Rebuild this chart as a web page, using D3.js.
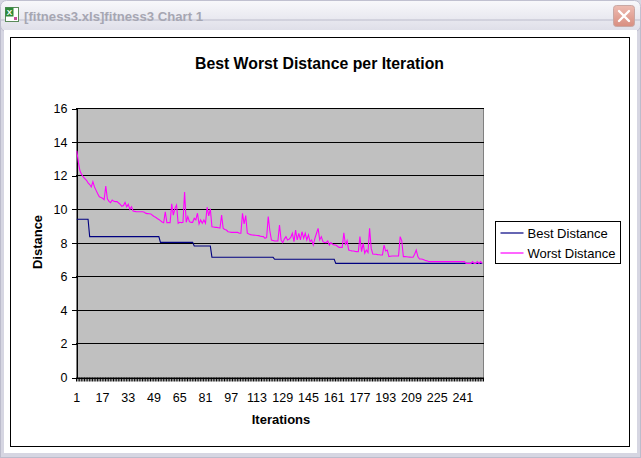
<!DOCTYPE html>
<html>
<head>
<meta charset="utf-8">
<script src="https://cdn.jsdelivr.net/npm/d3@7"></script>
<style>
  body { margin: 0; background: #fff; }
  svg { display: block; font-family: Arial, "Liberation Sans", sans-serif; }
</style>
</head>
<body>
<svg id="chart" width="641" height="458"></svg>
<script>
// ---- data ----
const windowTitle = '[fitness3.xls]fitness3 Chart 1';
const chartTitle = 'Best Worst Distance per Iteration';
const xAxisTitle = 'Iterations';
const yAxisTitle = 'Distance';
const seriesNames = ['Best Distance', 'Worst Distance'];
const seriesColors = ['#000080', '#ff00ff'];
const yTickValues = [0, 2, 4, 6, 8, 10, 12, 14, 16];
const xTickLabels = [1, 17, 33, 49, 65, 81, 97, 113, 129, 145, 161, 177, 193, 209, 225, 241];

const bestDistance = [
  9.38, 9.38, 9.38, 9.38, 9.38, 9.38, 9.38, 9.38,
  8.35, 8.35, 8.35, 8.35, 8.35, 8.35, 8.35, 8.35, 8.35, 8.35, 8.35, 8.35, 8.35, 8.35, 8.35, 8.35, 8.35, 8.35, 8.35, 8.35,
  8.35, 8.35, 8.35, 8.35, 8.35, 8.35, 8.35, 8.35, 8.35, 8.35, 8.35, 8.35, 8.35, 8.35, 8.35, 8.35, 8.35, 8.35, 8.35, 8.35,
  8.35, 8.35, 8.35, 8.35,
  8.01, 8.01, 8.01, 8.01, 8.01, 8.01, 8.01, 8.01, 8.01, 8.01, 8.01, 8.01, 8.01, 8.01, 8.01, 8.01, 8.01, 8.01, 8.01, 8.01, 8.01,
  7.79, 7.79, 7.79, 7.79, 7.79, 7.79, 7.79, 7.79, 7.79, 7.79, 7.79,
  7.12, 7.12, 7.12, 7.12, 7.12, 7.12, 7.12, 7.12, 7.12, 7.12, 7.12, 7.12, 7.12, 7.12, 7.12, 7.12, 7.12, 7.12, 7.12, 7.12,
  7.12, 7.12, 7.12, 7.12, 7.12, 7.12, 7.12, 7.12, 7.12, 7.12, 7.12, 7.12, 7.12, 7.12, 7.12, 7.12, 7.12, 7.12, 7.12,
  7.0, 7.0, 7.0, 7.0, 7.0, 7.0, 7.0, 7.0, 7.0, 7.0, 7.0, 7.0, 7.0, 7.0, 7.0, 7.0, 7.0, 7.0, 7.0, 7.0,
  7.0, 7.0, 7.0, 7.0, 7.0, 7.0, 7.0, 7.0, 7.0, 7.0, 7.0, 7.0, 7.0, 7.0, 7.0, 7.0, 7.0, 7.0,
  6.76, 6.76, 6.76, 6.76, 6.76, 6.76, 6.76, 6.76, 6.76, 6.76, 6.76, 6.76, 6.76, 6.76, 6.76, 6.76, 6.76, 6.76, 6.76, 6.76,
  6.76, 6.76, 6.76, 6.76, 6.76, 6.76, 6.76, 6.76, 6.76, 6.76, 6.76, 6.76, 6.76, 6.76, 6.76, 6.76, 6.76, 6.76, 6.76, 6.76,
  6.76, 6.76, 6.76, 6.76, 6.76, 6.76, 6.76, 6.76, 6.76, 6.76, 6.76, 6.76, 6.76, 6.76, 6.76, 6.76, 6.76, 6.76, 6.76, 6.76,
  6.76, 6.76, 6.76, 6.76, 6.76, 6.76, 6.76, 6.76, 6.76, 6.76, 6.76, 6.76, 6.76, 6.76, 6.76, 6.76, 6.76, 6.76, 6.76, 6.76,
  6.76, 6.76, 6.76, 6.76, 6.76, 6.76, 6.76, 6.76, 6.76, 6.76, 6.76, 6.76
];

const worstDistance = [
  13.46, 12.75, 12.25, 12.05, 11.9, 11.8, 11.7, 11.55, 11.45, 11.3,
  11.62, 11.3, 11.1, 10.9, 10.72, 10.68, 10.63, 10.55, 11.36, 10.6,
  10.45, 10.37, 10.53, 10.45, 10.43, 10.43, 10.35, 10.27, 10.15, 10.2,
  10.39, 10.13, 10.27, 9.97, 10.13, 9.87, 9.85, 9.83, 9.83, 9.83,
  9.83, 9.83, 9.8, 9.73, 9.72, 9.71, 9.7, 9.62, 9.55, 9.5,
  9.43, 9.37, 9.3, 9.22, 9.18, 9.83, 9.18, 9.18, 9.18, 10.3,
  9.63, 10.03, 10.23, 9.14, 9.2, 9.18, 9.2, 11.0, 9.2, 9.54,
  9.24, 9.2, 9.2, 9.44, 9.34, 9.74, 9.1, 9.34, 9.14, 9.34,
  9.14, 10.1, 9.58, 10.0, 8.94, 8.92, 8.9, 8.9, 8.88, 8.86,
  9.63, 8.84, 8.78, 8.74, 8.64, 8.62, 8.6, 8.6, 8.6, 8.6,
  8.6, 8.55, 8.55, 9.74, 9.1, 9.6, 8.55, 8.5, 8.47, 8.45,
  8.44, 8.43, 8.42, 8.41, 8.38, 8.36, 8.35, 8.25, 8.3, 9.54,
  8.7, 8.15, 8.12, 8.09, 8.09, 8.09, 9.04, 8.15, 7.99, 8.2,
  8.35, 8.15, 8.2, 8.3, 8.55, 8.05, 8.74, 8.15, 8.55, 8.15,
  8.64, 8.25, 8.55, 8.15, 8.45, 8.05, 8.15, 7.85, 8.25, 8.55,
  8.84, 8.15, 8.35, 8.05, 8.0, 7.99, 8.09, 7.85, 7.99, 7.9,
  7.85, 7.85, 7.78, 7.71, 7.71, 7.71, 8.58, 7.85, 8.11, 7.55,
  7.52, 7.5, 7.49, 7.47, 7.46, 7.45, 8.35, 7.45, 7.95, 7.36,
  7.55, 7.4, 8.84, 7.65, 7.32, 7.3, 7.3, 7.28, 7.27, 7.26,
  7.26, 7.85, 7.5, 7.55, 7.16, 7.18, 7.2, 7.2, 7.2, 7.2,
  7.2, 8.35, 8.1, 7.16, 7.16, 7.15, 7.14, 7.13, 7.12, 7.12,
  7.3, 7.55, 7.16, 7.02, 7.02, 7.0, 6.96, 6.92, 6.9, 6.86,
  6.86, 6.86, 6.86, 6.86, 6.86, 6.86, 6.86, 6.86, 6.86, 6.86,
  6.86, 6.86, 6.86, 6.86, 6.86, 6.86, 6.86, 6.86, 6.86, 6.86,
  6.86, 6.86, 6.76, 6.76, 6.76, 6.76, 6.86, 6.76, 6.76, 6.86,
  6.76, 6.86, 6.76
];

const iterations = d3.range(1, bestDistance.length + 1);

// ---- layout ----
const W = 641, H = 458;
const plot = { left: 76, right: 483, top: 108, bottom: 377 };
const FONT = 'Arial, "Liberation Sans", sans-serif';

const svg = d3.select('#chart');
const defs = svg.append('defs');

// window chrome
const titleGrad = defs.append('linearGradient')
  .attr('id', 'titlebar').attr('x1', 0).attr('y1', 0).attr('x2', 0).attr('y2', 1);
titleGrad.append('stop').attr('offset', '0%').attr('stop-color', '#f8f8fb');
titleGrad.append('stop').attr('offset', '100%').attr('stop-color', '#dedee8');

const closeGrad = defs.append('linearGradient')
  .attr('id', 'closebtn').attr('x1', 0).attr('y1', 0).attr('x2', 0).attr('y2', 1);
closeGrad.append('stop').attr('offset', '0%').attr('stop-color', '#eebcb2');
closeGrad.append('stop').attr('offset', '100%').attr('stop-color', '#d88e80');

svg.append('rect')
  .attr('width', W).attr('height', H)
  .attr('fill', '#d6d6e2');
svg.append('rect')
  .attr('x', 0.5).attr('y', 0.5).attr('width', W - 1).attr('height', 31)
  .attr('rx', 6)
  .attr('fill', 'url(#titlebar)')
  .attr('stroke', '#c0c0d0');
svg.append('rect')
  .attr('x', 0.5).attr('y', 20).attr('width', W - 1).attr('height', H - 20.5)
  .attr('fill', 'none')
  .attr('stroke', '#bcbccc');
svg.append('rect')
  .attr('x', 4).attr('y', 30).attr('width', W - 8).attr('height', H - 35)
  .attr('fill', '#fff');

// excel icon
const icon = svg.append('g').attr('transform', 'translate(5,7)');
icon.append('rect').attr('x', 0.5).attr('y', 0.5).attr('width', 13).attr('height', 14)
  .attr('fill', '#fff').attr('stroke', '#5a8a5a');
icon.append('rect').attr('x', 0.5).attr('y', 0.5).attr('width', 8).attr('height', 9)
  .attr('fill', '#2f8a3a');
icon.append('text').attr('x', 4.5).attr('y', 8).attr('text-anchor', 'middle')
  .attr('font-size', 8).attr('font-weight', 'bold').attr('fill', '#fff').text('X');
icon.append('rect').attr('x', 9).attr('y', 10).attr('width', 3).attr('height', 3).attr('fill', '#c84c9c');

svg.append('text')
  .attr('x', 24).attr('y', 21)
  .attr('font-size', 13).attr('font-weight', 'bold')
  .attr('fill', '#a6a6b2')
  .attr('textLength', 179).attr('lengthAdjust', 'spacingAndGlyphs')
  .text(windowTitle);

// close button
const closeBtn = svg.append('g').attr('transform', 'translate(613,5)');
closeBtn.append('rect').attr('x', 0.5).attr('y', 0.5).attr('width', 21).attr('height', 21).attr('rx', 3)
  .attr('fill', 'url(#closebtn)').attr('stroke', '#c8a8a4');
closeBtn.append('path').attr('d', 'M6,6 L16,16 M16,6 L6,16')
  .attr('stroke', '#fff').attr('stroke-width', 2.4).attr('stroke-linecap', 'round');

// chart area
svg.append('rect')
  .attr('x', 10.5).attr('y', 37.5).attr('width', 619).attr('height', 409)
  .attr('fill', '#fff').attr('stroke', '#000');

svg.append('text')
  .attr('x', 319.5).attr('y', 69)
  .attr('text-anchor', 'middle')
  .attr('font-size', 15.8).attr('font-weight', 'bold')
  .text(chartTitle);

// scales
const x = d3.scaleBand().domain(iterations).range([plot.left, plot.right]);
const xEdge = d3.scaleLinear().domain([0, iterations.length]).range([plot.left, plot.right]);
const y = d3.scaleLinear().domain([0, 16]).range([plot.bottom, plot.top]);
const cx = d => x(d) + x.bandwidth() / 2;

// plot area
svg.append('rect')
  .attr('x', plot.left + 0.5).attr('y', plot.top + 0.5)
  .attr('width', plot.right - plot.left).attr('height', plot.bottom - plot.top)
  .attr('fill', '#c0c0c0').attr('stroke', '#808080');

// gridlines
svg.append('g')
  .selectAll('line')
  .data(yTickValues.filter(v => v > 0))
  .join('line')
  .attr('x1', plot.left).attr('x2', plot.right + 1)
  .attr('y1', d => Math.round(y(d)) + 0.5).attr('y2', d => Math.round(y(d)) + 0.5)
  .attr('stroke', '#000')
  .attr('shape-rendering', 'crispEdges');

// y axis
const yAxis = svg.append('g')
  .attr('transform', `translate(${plot.left + 0.5},0.5)`)
  .call(d3.axisLeft(y).tickValues(yTickValues).tickSize(5).tickSizeOuter(0).tickPadding(4));
yAxis.select('.domain').attr('stroke', '#000').attr('shape-rendering', 'crispEdges');
yAxis.selectAll('.tick line').attr('stroke', '#000').attr('shape-rendering', 'crispEdges');
yAxis.selectAll('.tick text')
  .attr('font-size', 12.5).attr('font-family', FONT)
  .attr('fill', '#000');

// x axis: tick marks between every category
const xTicks = svg.append('g')
  .attr('transform', `translate(0,${plot.bottom + 0.5})`)
  .call(d3.axisBottom(xEdge).tickValues(d3.range(0, iterations.length + 1)).tickSize(4).tickSizeOuter(0).tickFormat(''));
xTicks.select('.domain').attr('stroke', '#000').attr('shape-rendering', 'crispEdges');
xTicks.selectAll('.tick line').attr('stroke', '#000').attr('stroke-width', 1);

// x axis labels every 16 categories
const xLabels = svg.append('g')
  .attr('transform', `translate(0,${plot.bottom})`)
  .call(d3.axisBottom(x).tickValues(xTickLabels).tickSize(0).tickPadding(16));
xLabels.select('.domain').remove();
xLabels.selectAll('.tick text')
  .attr('font-size', 12.5).attr('font-family', FONT)
  .attr('fill', '#000');

// axis titles
svg.append('text')
  .attr('x', 281).attr('y', 424)
  .attr('text-anchor', 'middle')
  .attr('font-size', 13).attr('font-weight', 'bold')
  .text(xAxisTitle);

svg.append('text')
  .attr('transform', 'translate(42,242) rotate(-90)')
  .attr('text-anchor', 'middle')
  .attr('font-size', 13).attr('font-weight', 'bold')
  .text(yAxisTitle);

// series
const line = d3.line().x((d, i) => cx(iterations[i])).y(d => y(d));
[bestDistance, worstDistance].forEach((series, k) => {
  svg.append('path')
    .datum(series)
    .attr('d', line)
    .attr('fill', 'none')
    .attr('stroke', seriesColors[k])
    .attr('stroke-width', 1.1);
});

// legend
const legend = svg.append('g').attr('transform', 'translate(495.5,221.5)');
legend.append('rect')
  .attr('width', 125).attr('height', 42)
  .attr('fill', '#fff').attr('stroke', '#000');
const items = legend.selectAll('g.item')
  .data(seriesNames)
  .join('g')
  .attr('class', 'item')
  .attr('transform', (d, i) => `translate(0,${11.5 + i * 20})`);
items.append('line')
  .attr('x1', 5).attr('x2', 28)
  .attr('stroke', (d, i) => seriesColors[i])
  .attr('stroke-width', 1.2);
items.append('text')
  .attr('x', 32).attr('y', 4.5)
  .attr('font-size', 13)
  .text(d => d);
</script>
</body>
</html>
